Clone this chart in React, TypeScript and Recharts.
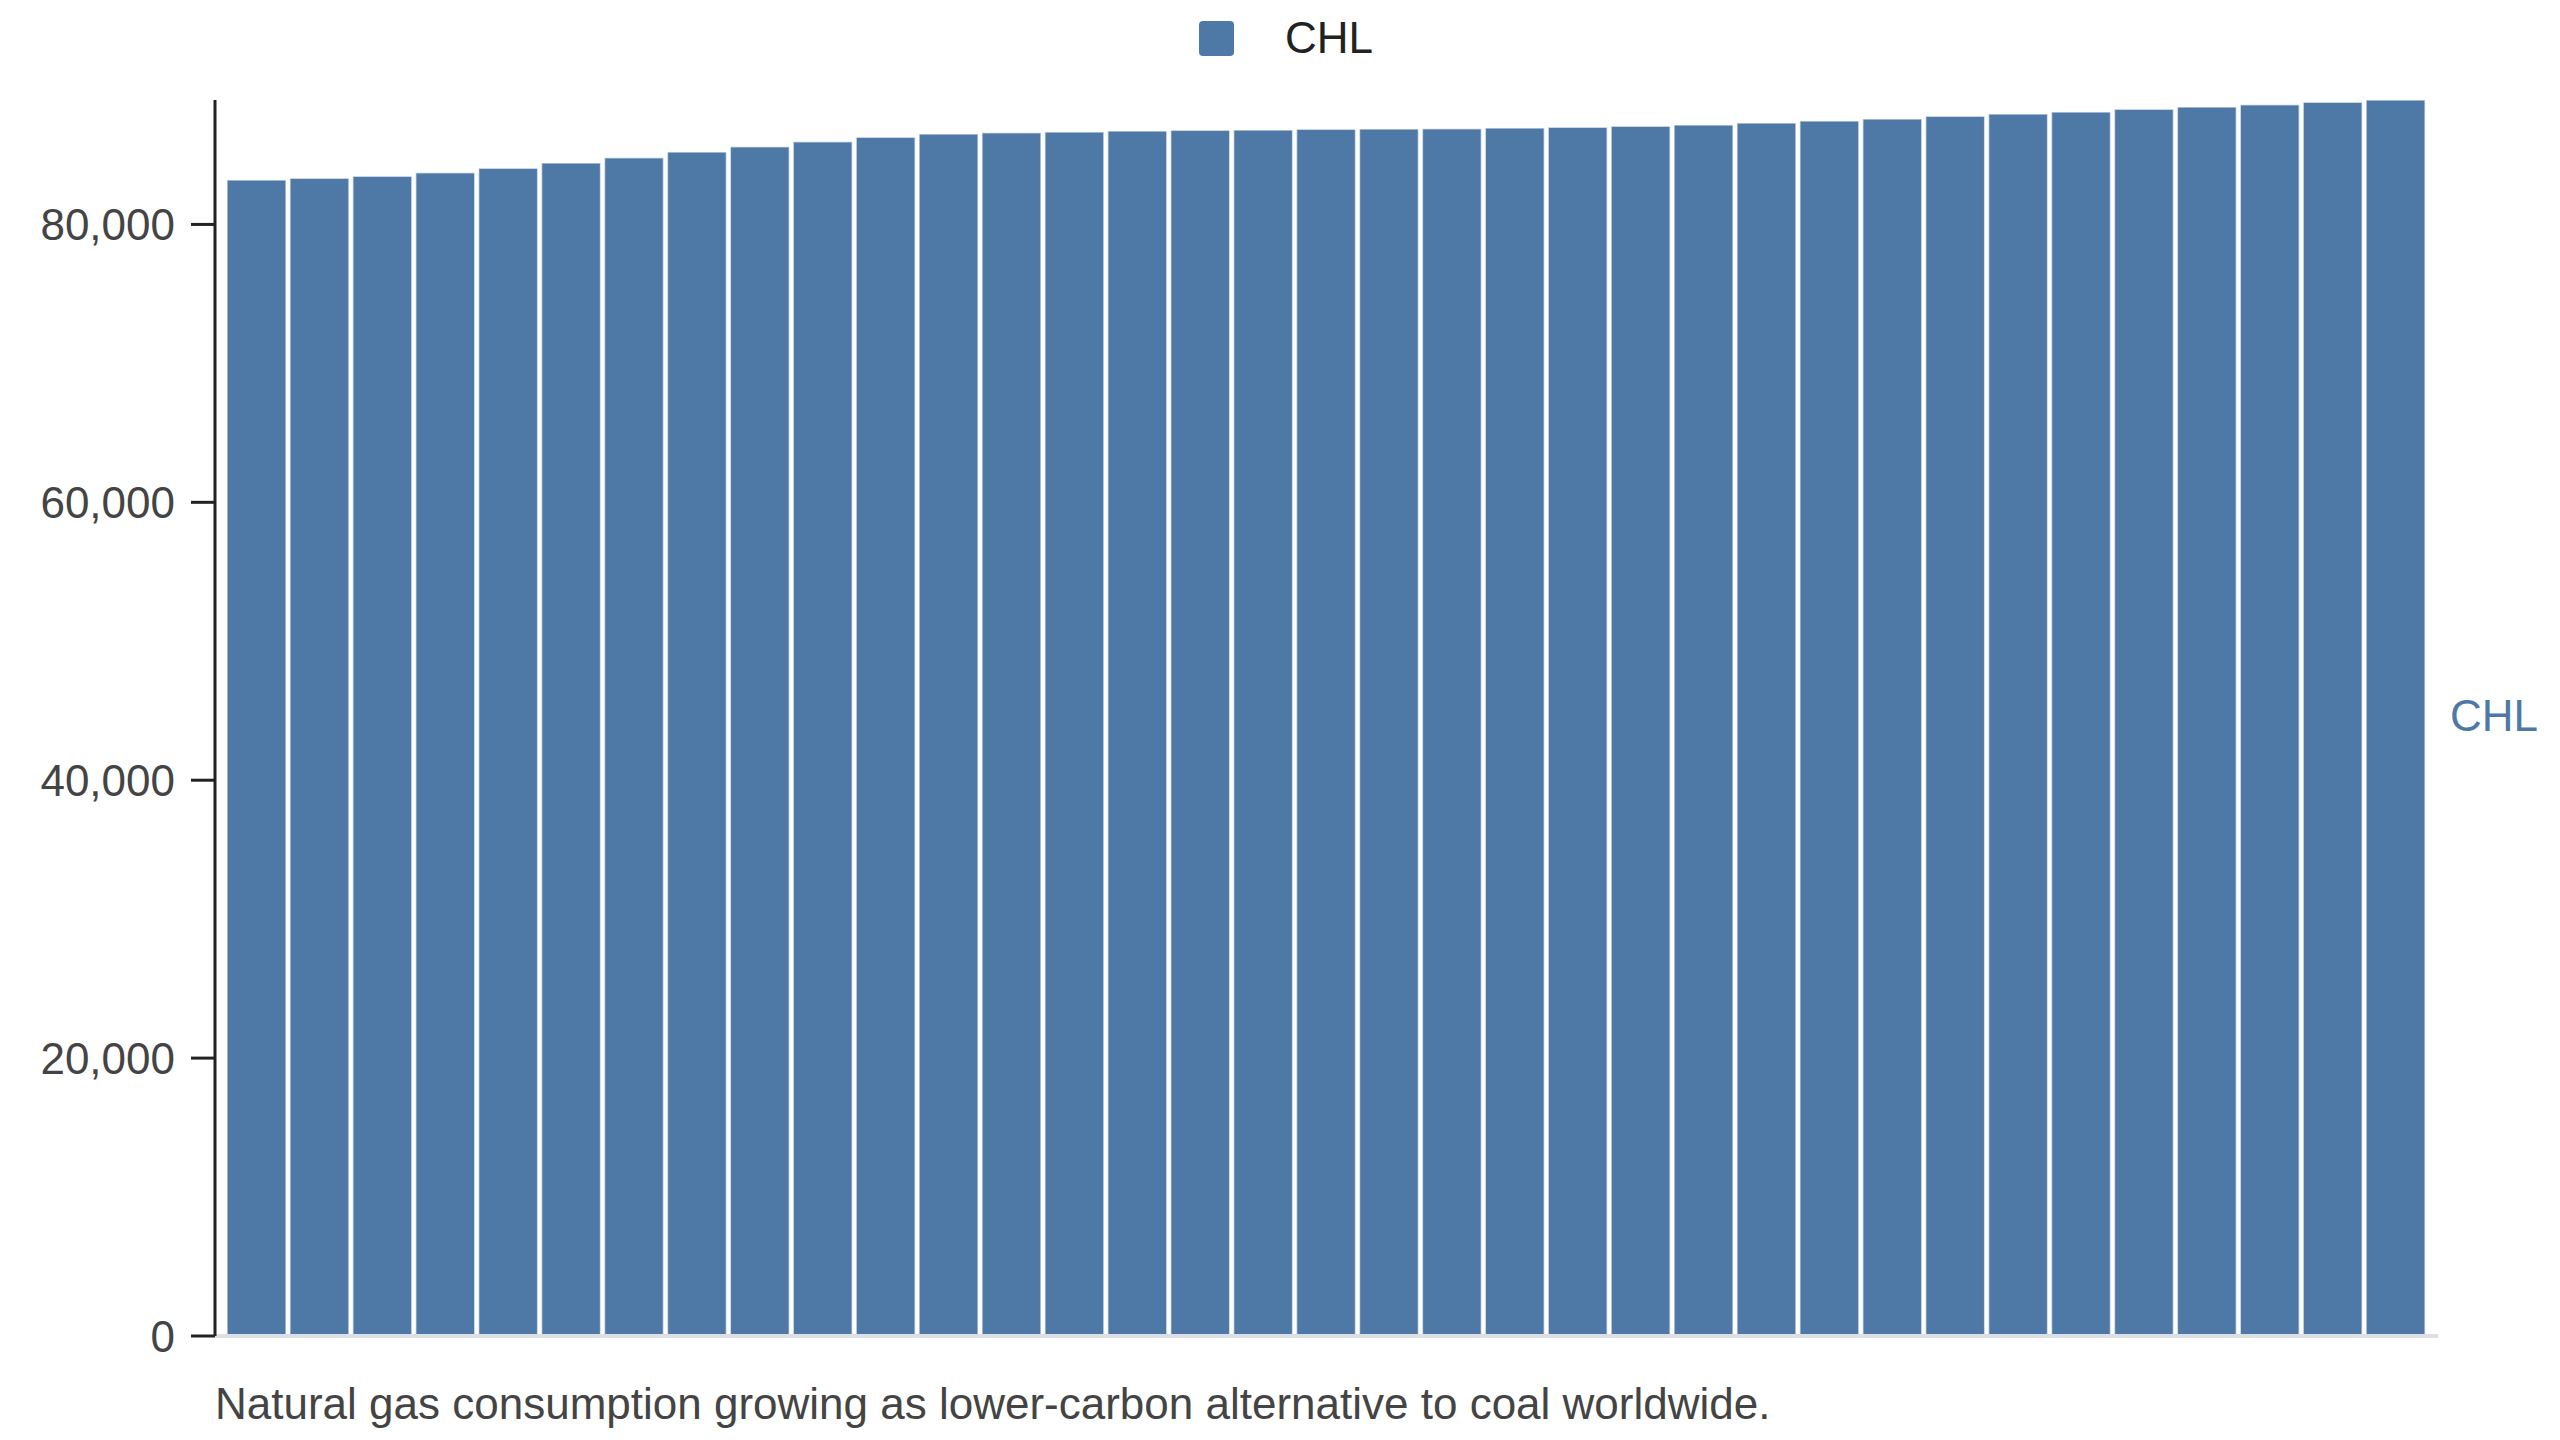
import React from "react";
import { BarChart, Bar, XAxis, YAxis } from "recharts";

const years = [
  "1990", "1991", "1992", "1993", "1994", "1995", "1996", "1997", "1998", "1999",
  "2000", "2001", "2002", "2003", "2004", "2005", "2006", "2007", "2008", "2009",
  "2010", "2011", "2012", "2013", "2014", "2015", "2016", "2017", "2018", "2019",
  "2020", "2021", "2022", "2023", "2024",
];

const chlValues = [
  83197, 83320, 83463, 83723, 84039, 84421, 84802, 85212, 85594, 85954,
  86270, 86508, 86602, 86652, 86724, 86774, 86796, 86846, 86868, 86890,
  86940, 86990, 87062, 87156, 87300, 87444, 87587, 87782, 87947, 88091,
  88285, 88451, 88616, 88789, 88955,
];

const yTicks = [0, 20000, 40000, 60000, 80000];

const seriesName = "CHL";
const caption = "Natural gas consumption growing as lower-carbon alternative to coal worldwide.";

const data = years.map((y, i) => ({ year: y, CHL: chlValues[i] }));

const FONT = '"Liberation Sans", Arial, Helvetica, sans-serif';
const BLUE = "#4e79a7";

export default function App() {
  return (
    <div style={{ position: "absolute", left: 0, top: 0, width: 2560, height: 1440, background: "#fff" }}>
      <BarChart
        width={2560}
        height={1440}
        data={data}
        margin={{ top: 100, right: 122, bottom: 103, left: 0 }}
        barCategoryGap={2}
      >
        <XAxis
          dataKey="year"
          tick={false}
          tickLine={false}
          height={1}
          padding={{ left: 10, right: 11 }}
          axisLine={{ stroke: "#dcdfe4", strokeWidth: 4 }}
        />
        <YAxis
          width={215}
          domain={[0, "dataMax"]}
          ticks={yTicks}
          interval={0}
          tickSize={24}
          tickMargin={16}
          tickFormatter={(v: number) => v.toLocaleString("en-US")}
          tick={{ fill: "#444", fontSize: 44, fontFamily: FONT }}
          tickLine={{ stroke: "#222", strokeWidth: 3 }}
          axisLine={{ stroke: "#222", strokeWidth: 3 }}
        />
        <Bar
          dataKey="CHL"
          name={seriesName}
          fill={BLUE}
          stroke="#ffffff"
          strokeWidth={1.5}
          strokeOpacity={0.6}
          isAnimationActive={false}
        />
      </BarChart>
      <div
        style={{
          position: "absolute",
          left: 0,
          top: 16,
          width: 2572,
          display: "flex",
          justifyContent: "center",
          alignItems: "center",
          fontFamily: FONT,
          fontSize: 44,
          color: "#222",
          lineHeight: 1,
        }}
      >
        <span
          style={{
            display: "inline-block",
            width: 35,
            height: 35,
            background: BLUE,
            borderRadius: 4,
            marginRight: 51,
          }}
        />
        <span>{seriesName}</span>
      </div>
      <div
        style={{
          position: "absolute",
          left: 2450,
          top: 716,
          transform: "translateY(-50%)",
          fontFamily: FONT,
          fontSize: 44,
          color: BLUE,
          lineHeight: 1,
        }}
      >
        {seriesName}
      </div>
      <div
        style={{
          position: "absolute",
          left: 215,
          top: 1382,
          fontFamily: FONT,
          fontSize: 44,
          color: "#444",
          lineHeight: 1,
          whiteSpace: "nowrap",
        }}
      >
        {caption}
      </div>
    </div>
  );
}
